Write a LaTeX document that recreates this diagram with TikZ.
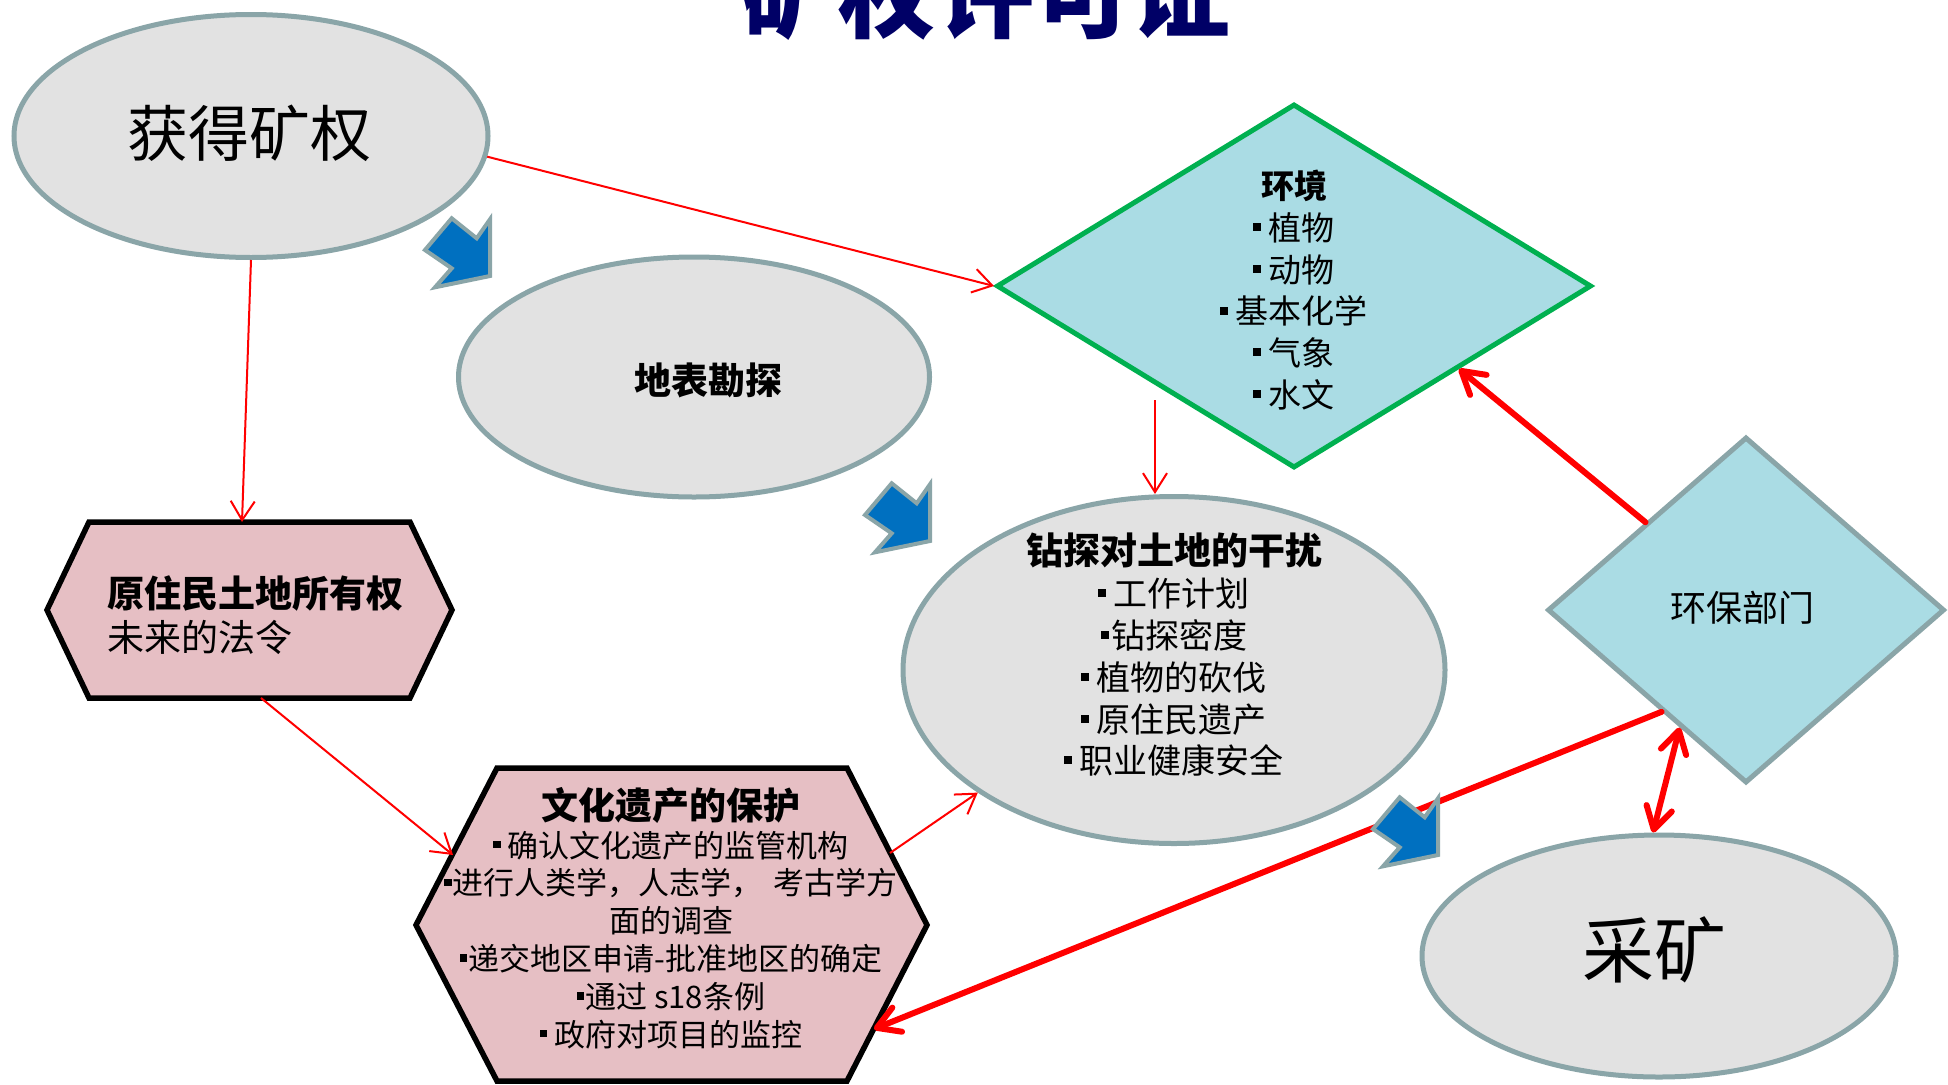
\documentclass[tikz,border=0pt]{standalone}
\usepackage{fontspec}
\setmainfont{Noto Sans CJK SC}
\usetikzlibrary{shapes.geometric,arrows.meta,calc}
\definecolor{rim}{HTML}{8AA5A8}
\definecolor{stone}{HTML}{E2E2E2}
\definecolor{water}{HTML}{AADCE4}
\definecolor{rose}{HTML}{E6BFC4}
\definecolor{envgreen}{HTML}{00B050}
\definecolor{navy}{HTML}{000066}
\definecolor{bluearrow}{HTML}{0070C0}
\newcommand\bu{\raisebox{0.28em}{\rule{0.24em}{0.24em}}}
\begin{document}
\begin{tikzpicture}[x=1pt,y=-1pt,
  stoneell/.style={ellipse, draw=rim, line width=5pt, fill=stone, inner sep=0pt},
  waterdia/.style={diamond, fill=water, line width=5pt, inner sep=0pt},
  hexbox/.style={fill=rose, draw=black, line width=5.5pt, line join=miter},
  txt/.style={inner sep=0pt, text=black},
  thinlink/.style={draw=red, line width=2pt, -{Straight Barb[length=19pt,width=24pt]}},
  thicklink/.style={draw=red, line width=6pt, line cap=round, -{Straight Barb[length=22pt,width=26pt,round]}},
  thickboth/.style={draw=red, line width=6pt, line cap=round, {Straight Barb[length=22pt,width=26pt,round]}-{Straight Barb[length=22pt,width=26pt,round]}},
  blockarrow/.pic={\filldraw[fill=bluearrow, draw=rim, line width=4pt, line join=miter]
     (-38.3,-57.7) -- (-13.3,-37.7) -- (0,-56.7) -- (0,0) -- (-55,11.3) -- (-38.3,-7.7) -- (-65,-26) -- cycle;}
]
\fill[white] (0,0) rectangle (1948,1084);
\clip (0,0) rectangle (1948,1084);

% title (cut off at top)
\node[txt, text=navy, anchor=base, font=\fontsize{98}{100}\selectfont\bfseries] (title) at (985,30) {矿权许可证};

% ellipses
\node[stoneell, minimum width=474, minimum height=243] (getm) at (251,136) {};
\node[stoneell, minimum width=471, minimum height=240] (survey) at (694,377) {};
\node[stoneell, minimum width=542, minimum height=347] (drill) at (1174,670) {};
\node[stoneell, minimum width=474, minimum height=242] (mine) at (1659,956) {};

% diamonds
\node[waterdia, draw=envgreen, minimum width=595, minimum height=364] (env) at (1294,286) {};
\node[waterdia, draw=rim, minimum width=397, minimum height=346] (hb) at (1746,610) {};

% hexagons
\filldraw[hexbox] (47,610) -- (89,522) -- (410,522) -- (452,610) -- (410,698) -- (89,698) -- cycle;
\filldraw[hexbox] (416,925) -- (497,768) -- (847,768) -- (927,925) -- (847,1081) -- (497,1081) -- cycle;
\coordinate (hex1n) at (242,522);
\coordinate (hex1s) at (261,698);
\coordinate (hex2in) at (453,855);
\coordinate (hex2out) at (890,853);
\coordinate (hex2in2) at (874,1029);
\coordinate (envdrop) at (1155,400);

% texts
\node[txt, font=\fontsize{61}{70}\selectfont] (getmT) at (249,133) {获得矿权};
\node[txt, font=\fontsize{37}{44}\selectfont\bfseries] (surveyT) at (708,380) {地表勘探};
\node[txt, align=center, font=\fontsize{33}{41.8}\selectfont] (envT) at (1294,290)
  {{\bfseries 环境}\\\bu\ 植物\\\bu\ 动物\\\bu\ 基本化学\\\bu\ 气象\\\bu\ 水文};
\node[txt, align=center, font=\fontsize{34}{41.8}\selectfont] (drillT) at (1174,655)
  {{\fontsize{37}{41.8}\selectfont\bfseries 钻探对土地的干扰}\\\bu\ 工作计划\\\bu\hspace{2pt}钻探密度\\\bu\ 植物的砍伐\\\bu\ 原住民遗产\\\bu\ 职业健康安全};
\node[txt, align=left, anchor=west, font=\fontsize{37}{44}\selectfont] (hex1T) at (107,615)
  {{\bfseries 原住民土地所有权}\\未来的法令};
\node[txt, align=center, font=\fontsize{31}{37.8}\selectfont] (hex2T) at (671,918)
  {{\fontsize{37}{41}\selectfont\bfseries 文化遗产的保护}\\\bu\ 确认文化遗产的监管机构\\\bu\hspace{1pt}进行人类学，人志学，\hspace{0.35em}考古学方\\面的调查\\\bu\hspace{1pt}递交地区申请-批准地区的确定\\\bu\hspace{1pt}通过 s18条例\\\bu\ 政府对项目的监控};
\node[txt, font=\fontsize{36}{40}\selectfont] (hbT) at (1742,608) {环保部门};
\node[txt, font=\fontsize{72}{80}\selectfont] (mineT) at (1654,950) {采矿};

% thin connectors
\draw[thinlink] (getm.-5) -- (env.west);
\draw[thinlink] (getm.south) -- (hex1n);
\draw[thinlink] (hex1s) -- (hex2in);
\draw[thinlink] (hex2out) -- (drill.212);
\draw[thinlink] (envdrop) -- (envdrop |- drill.north);

% thick connectors
\draw[thicklink] ($(hb.north)!0.5!(hb.west)$) -- ($(env.south)!0.55!(env.east)$);
\draw[thicklink] ($(hb.west)!0.58!(hb.south)$) -- (hex2in2);
\draw[thickboth] ($(hb.west)!0.67!(hb.south)$) -- ($(mine.north)+(-6,0)$);

% blue block arrows
\pic at (490,276) {blockarrow};
\pic at (930,541) {blockarrow};
\pic at (1438,855) {blockarrow};
\end{tikzpicture}
\end{document}
